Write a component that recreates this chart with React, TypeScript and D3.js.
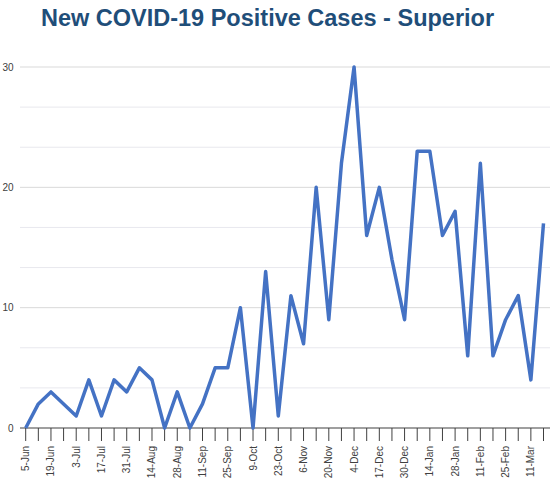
import * as d3 from 'd3'

const WEEKS = [
  '5-Jun', '12-Jun', '19-Jun', '26-Jun', '3-Jul', '10-Jul', '17-Jul', '24-Jul', '31-Jul',
  '7-Aug', '14-Aug', '21-Aug', '28-Aug', '4-Sep', '11-Sep', '18-Sep', '25-Sep',
  '2-Oct', '9-Oct', '16-Oct', '23-Oct', '30-Oct', '6-Nov', '13-Nov', '20-Nov', '27-Nov',
  '4-Dec', '11-Dec', '17-Dec', '23-Dec', '30-Dec', '7-Jan', '14-Jan', '21-Jan', '28-Jan',
  '4-Feb', '11-Feb', '18-Feb', '25-Feb', '4-Mar', '11-Mar', '18-Mar',
]

const CASES = [
  0, 2, 3, 2, 1, 4, 1, 4, 3, 5, 4, 0, 3, 0, 2, 5, 5, 10, 0, 13, 1,
  11, 7, 20, 9, 22, 30, 16, 20, 14, 9, 23, 23, 16, 18, 6, 22, 6, 9, 11, 4, 17,
]

// every other week gets a label
const LABELED_WEEKS = WEEKS.filter((_, i) => i % 2 === 0)
const Y_LABELS = [0, 10, 20, 30]

const W = 550
const H = 486
const TITLE = 'New COVID-19 Positive Cases - Superior'

export default function App() {
  const x = d3.scalePoint<string>().domain(WEEKS).range([25.7, 543.5])
  const y = d3.scaleLinear().domain([0, 30]).range([428, 67])

  // gridlines every third of a labelled step
  const grid = d3.range(1, 10).map((i) => (i * 10) / 3)

  const line = d3
    .line<number>()
    .x((_, i) => x(WEEKS[i]) as number)
    .y((d) => y(d))

  return (
    <svg
      width={W}
      height={H}
      style={{ position: 'absolute', left: 0, top: 0, background: '#fff' }}
      fontFamily="'Liberation Sans', Arial, sans-serif"
    >
      <text
        x={267.5}
        y={26}
        textAnchor="middle"
        fontSize={23.5}
        fontWeight="bold"
        fill="#1f4e79"
      >
        {TITLE}
      </text>

      {grid.map((v) => (
        <line
          key={v}
          x1={20}
          x2={W}
          y1={y(v)}
          y2={y(v)}
          stroke={Math.abs(v % 10) < 0.01 || Math.abs((v % 10) - 10) < 0.01 ? '#d9d9d9' : '#e8e8ee'}
          strokeWidth={1}
        />
      ))}

      {Y_LABELS.map((v) => (
        <text key={v} x={13.5} y={y(v)} dy="0.35em" textAnchor="end" fontSize={10} fill="#404040">
          {v}
        </text>
      ))}

      <line x1={20} x2={W} y1={y(0)} y2={y(0)} stroke="#404040" strokeWidth={1.2} />
      {WEEKS.map((w) => (
        <line key={w} x1={x(w)} x2={x(w)} y1={y(0)} y2={y(0) + 13} stroke="#404040" strokeWidth={1} />
      ))}

      {LABELED_WEEKS.map((w) => (
        <text
          key={w}
          transform={`translate(${x(w)},446) rotate(-90)`}
          dy="0.35em"
          textAnchor="end"
          fontSize={10}
          fill="#404040"
        >
          {w}
        </text>
      ))}

      <path
        d={line(CASES) ?? ''}
        fill="none"
        stroke="#4472c4"
        strokeWidth={3.5}
        strokeLinejoin="round"
      />
    </svg>
  )
}
